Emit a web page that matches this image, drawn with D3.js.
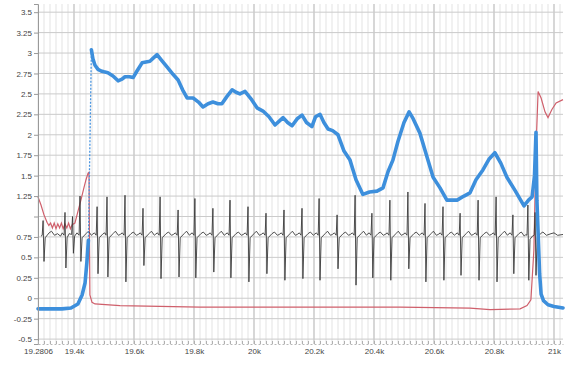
<!DOCTYPE html>
<html>
<head>
<meta charset="utf-8">
<script src="https://cdn.jsdelivr.net/npm/d3@7/dist/d3.min.js"></script>
<style>
  html, body { margin: 0; padding: 0; background: #fff; }
  svg { display: block; font-family: "Liberation Sans", "DejaVu Sans", sans-serif; }
</style>
</head>
<body>
<svg id="chart" width="565" height="365"></svg>
<script>
// Axis ticks
const xTickValues = [19280, 19400, 19600, 19800, 20000, 20200, 20400, 20600, 20800, 21000];
const xTickLabels = ["19.2806", "19.4k", "19.6k", "19.8k", "20k", "20.2k", "20.4k", "20.6k", "20.8k", "21k"];
const yTickValues = [3.5, 3.25, 3, 2.75, 2.5, 2.25, 2, 1.75, 1.5, 1.25, 1, 0.75, 0.5, 0.25, 0, -0.25, -0.5];
const yTickLabels = ["3.5", "3.25", "3", "2.75", "2.5", "2.25", "2", "1.75", "1.5", "1.25", "", "0.75", "0.5", "0.25", "0", "-0.25", "-0.5"];

// Blue trace, before the jump and after it
const blueRise = [
  [19280,-0.13],[19320,-0.13],[19360,-0.13],[19390,-0.12],[19413,-0.07],[19427,0.04],
  [19437,0.19],[19443,0.44],[19448,0.71]
];
const blueMain = [
  [19458,3.04],[19463,2.93],[19470,2.85],[19480,2.80],[19490,2.78],[19500,2.77],[19513,2.76],
  [19530,2.72],[19547,2.66],[19560,2.68],[19570,2.71],[19585,2.71],[19597,2.70],[19610,2.78],
  [19627,2.88],[19640,2.89],[19653,2.90],[19665,2.94],[19677,2.98],[19690,2.92],[19710,2.83],
  [19730,2.74],[19747,2.67],[19762,2.55],[19777,2.45],[19797,2.45],[19815,2.40],[19830,2.34],
  [19847,2.38],[19863,2.40],[19880,2.38],[19893,2.38],[19910,2.47],[19927,2.55],[19940,2.52],
  [19953,2.50],[19970,2.53],[19990,2.44],[20010,2.33],[20030,2.29],[20050,2.22],[20070,2.12],
  [20085,2.17],[20097,2.21],[20112,2.15],[20127,2.11],[20145,2.20],[20160,2.24],[20175,2.15],
  [20193,2.10],[20205,2.22],[20220,2.25],[20233,2.15],[20247,2.07],[20262,2.05],[20280,2.00],
  [20300,1.80],[20320,1.69],[20340,1.45],[20363,1.27],[20385,1.30],[20410,1.31],[20430,1.35],
  [20447,1.55],[20463,1.69],[20480,1.92],[20500,2.15],[20517,2.28],[20530,2.20],[20553,2.02],
  [20575,1.75],[20597,1.48],[20620,1.35],[20643,1.20],[20660,1.20],[20677,1.20],[20700,1.25],
  [20720,1.29],[20740,1.45],[20763,1.57],[20783,1.70],[20803,1.78],[20823,1.65],[20843,1.48],
  [20870,1.32],[20900,1.13],[20915,1.20],[20927,1.24],[20935,1.50],[20940,2.03],[20943,1.20],
  [20947,0.80],[20952,0.30],[20957,0.05],[20965,-0.03],[20980,-0.08],[21000,-0.10],[21030,-0.12]
];

// Red trace
const redTrace = [
  [19280,1.24],[19290,1.14],[19300,1.02],[19310,0.93],[19316,0.89],[19322,0.92],[19328,0.86],
  [19334,0.92],[19340,0.85],[19346,0.91],[19352,0.86],[19358,0.92],[19364,0.85],[19370,0.91],
  [19376,0.86],[19382,0.92],[19388,0.85],[19394,0.90],[19403,0.92],[19413,1.06],[19423,1.20],
  [19433,1.35],[19440,1.45],[19447,1.53],[19450,1.54],[19453,0.04],[19460,-0.05],[19470,-0.07],
  [19553,-0.09],[19820,-0.11],[20153,-0.11],[20487,-0.11],[20720,-0.12],[20787,-0.14],
  [20887,-0.13],[20910,-0.09],[20923,-0.02],[20933,0.59],[20940,1.83],[20947,2.53],[20957,2.45],
  [20970,2.28],[20980,2.21],[20993,2.31],[21007,2.39],[21030,2.43]
];

// Dark trace with periodic spikes
const darkTrace = [
  [19290,0.76],[19294,0.77],[19297,0.95],[19300,0.45],[19304,0.74],[19317,0.80],[19325,0.82],[19335,0.77],
  [19345,0.79],[19355,0.76],[19361,0.80],[19367,0.77],[19370,1.05],[19373,0.37],[19377,0.74],[19384,0.79],
  [19392,0.78],[19395,1.00],[19398,0.55],[19402,0.76],[19410,0.80],
  [19417,0.77],[19420,1.25],[19423,0.45],[19427,0.74],[19440,0.79],[19448,0.82],[19458,0.77],
  [19461,0.78],[19468,0.80],[19474,0.77],[19477,1.12],[19480,0.30],[19484,0.74],[19497,0.79],
  [19503,0.80],[19507,0.77],[19510,1.24],[19513,0.26],[19517,0.74],[19530,0.79],[19538,0.82],[19548,0.77],
  [19554,0.78],[19561,0.80],[19567,0.77],[19570,1.26],[19573,0.20],[19577,0.74],[19590,0.79],[19598,0.81],[19608,0.77],
  [19614,0.78],[19621,0.80],[19627,0.77],[19630,1.10],[19633,0.40],[19637,0.74],[19650,0.79],[19658,0.82],[19668,0.77],
  [19671,0.78],[19678,0.80],[19684,0.77],[19687,1.24],[19690,0.24],[19694,0.74],[19707,0.79],[19715,0.81],[19725,0.77],
  [19731,0.78],[19738,0.80],[19744,0.77],[19747,1.08],[19750,0.26],[19754,0.74],[19767,0.79],[19775,0.82],[19785,0.77],
  [19787,0.78],[19794,0.80],[19800,0.77],[19803,1.22],[19806,0.25],[19810,0.74],[19823,0.79],[19831,0.81],[19841,0.77],
  [19847,0.78],[19854,0.80],[19860,0.77],[19863,1.10],[19866,0.32],[19870,0.74],[19883,0.79],[19891,0.82],[19901,0.77],
  [19904,0.78],[19911,0.80],[19917,0.77],[19920,1.20],[19923,0.25],[19927,0.74],[19940,0.79],[19948,0.81],[19958,0.77],
  [19964,0.78],[19971,0.80],[19977,0.77],[19980,1.12],[19983,0.20],[19987,0.74],[20000,0.79],[20008,0.82],[20018,0.77],
  [20024,0.78],[20031,0.80],[20037,0.77],[20040,1.04],[20043,0.30],[20047,0.74],[20060,0.79],[20068,0.81],[20078,0.77],
  [20084,0.78],[20091,0.80],[20097,0.77],[20100,1.08],[20103,0.22],[20107,0.74],[20120,0.79],[20128,0.82],[20138,0.77],
  [20144,0.78],[20151,0.80],[20157,0.77],[20160,1.10],[20163,0.24],[20167,0.74],[20180,0.79],[20188,0.81],[20198,0.77],
  [20201,0.78],[20208,0.80],[20214,0.77],[20217,1.22],[20220,0.22],[20224,0.74],[20237,0.79],[20245,0.82],[20255,0.77],
  [20261,0.78],[20268,0.80],[20274,0.77],[20277,1.02],[20280,0.36],[20284,0.74],[20297,0.79],[20305,0.81],[20315,0.77],
  [20321,0.78],[20328,0.80],[20334,0.77],[20337,1.26],[20340,0.16],[20344,0.74],[20357,0.79],[20365,0.82],[20375,0.77],
  [20377,0.78],[20384,0.80],[20390,0.77],[20393,1.04],[20396,0.25],[20400,0.74],[20413,0.79],[20421,0.81],[20431,0.77],
  [20437,0.78],[20444,0.80],[20450,0.77],[20453,1.20],[20456,0.22],[20460,0.74],[20473,0.79],[20481,0.82],[20491,0.77],
  [20497,0.78],[20504,0.80],[20510,0.77],[20513,1.30],[20516,0.36],[20520,0.74],[20533,0.79],[20541,0.81],[20551,0.77],
  [20554,0.78],[20561,0.80],[20567,0.77],[20570,1.16],[20573,0.20],[20577,0.74],[20590,0.79],[20598,0.82],[20608,0.77],
  [20614,0.78],[20621,0.80],[20627,0.77],[20630,1.12],[20633,0.22],[20637,0.74],[20650,0.79],[20658,0.81],[20668,0.77],
  [20671,0.78],[20678,0.80],[20684,0.77],[20687,1.04],[20690,0.28],[20694,0.74],[20707,0.79],[20715,0.82],[20725,0.77],
  [20731,0.78],[20738,0.80],[20744,0.77],[20747,1.20],[20750,0.22],[20754,0.74],[20767,0.79],[20775,0.81],[20785,0.77],
  [20791,0.78],[20798,0.80],[20804,0.77],[20807,1.24],[20810,0.20],[20814,0.74],[20827,0.79],[20835,0.82],[20845,0.77],
  [20847,0.78],[20854,0.80],[20860,0.77],[20863,1.02],[20866,0.30],[20870,0.74],[20883,0.79],[20891,0.81],[20901,0.76],
  [20906,0.78],[20910,0.77],[20913,1.14],[20916,0.22],[20920,0.72],[20928,0.76],
  [20934,0.77],[20937,1.05],[20940,0.28],[20944,0.74],[20955,0.79],[20963,0.81],[20975,0.77],[20990,0.79],
  [21000,0.80],[21012,0.77],[21030,0.78]
];

const W = 565, H = 365;
const margin = { left: 38, right: 2, top: 4, bottom: 21 };
const svg = d3.select("#chart");

const x = d3.scaleLinear().domain([19280, 21030]).range([margin.left, W - margin.right]);
const y = d3.scaleLinear().domain([-0.56, 3.6]).range([H - margin.bottom, margin.top]);

const plot = svg.append("g");

// Minor vertical grid
const minorX = d3.range(19280, 21031, 20);
plot.append("g").selectAll("line").data(minorX).join("line")
  .attr("x1", d => x(d)).attr("x2", d => x(d))
  .attr("y1", y.range()[1]).attr("y2", y.range()[0])
  .attr("stroke", "#e3e3e3").attr("stroke-width", 1);

// Major vertical grid
plot.append("g").selectAll("line").data(xTickValues.slice(1)).join("line")
  .attr("x1", d => x(d)).attr("x2", d => x(d))
  .attr("y1", y.range()[1]).attr("y2", y.range()[0])
  .attr("stroke", "#bdbdbd").attr("stroke-width", 1);

// Horizontal grid
plot.append("g").selectAll("line").data(yTickValues).join("line")
  .attr("x1", x.range()[0]).attr("x2", x.range()[1])
  .attr("y1", d => y(d)).attr("y2", d => y(d))
  .attr("stroke", "#cbcbcb").attr("stroke-width", 1);

const line = d3.line().x(d => x(d[0])).y(d => y(d[1]));

// Red trace
plot.append("path").datum(redTrace)
  .attr("d", line).attr("fill", "none")
  .attr("stroke", "#cf5f6b").attr("stroke-width", 1.2);

// Dark trace
plot.append("path").datum(darkTrace)
  .attr("d", line).attr("fill", "none")
  .attr("stroke", "#3a3a3a").attr("stroke-width", 0.9);

// Blue trace
plot.append("path").datum([blueRise[blueRise.length - 1], blueMain[0]])
  .attr("d", line).attr("fill", "none")
  .attr("stroke", "#4a95e0").attr("stroke-width", 1.3).attr("stroke-dasharray", "2,1.5");
[blueRise, blueMain].forEach(seg => {
  plot.append("path").datum(seg)
    .attr("d", line).attr("fill", "none")
    .attr("stroke", "#3d8fdc").attr("stroke-width", 3.6)
    .attr("stroke-linejoin", "round").attr("stroke-linecap", "round");
});

// Y axis
const yAxis = svg.append("g").attr("transform", `translate(${margin.left},0)`)
  .call(d3.axisLeft(y).tickValues(yTickValues)
    .tickFormat((d, i) => yTickLabels[i]).tickSize(4).tickPadding(2));
yAxis.select(".domain").attr("stroke", "#9a9a9a");
yAxis.selectAll(".tick line").attr("stroke", "#9a9a9a");
yAxis.selectAll("text").attr("fill", "#444").style("font-size", "8px");

// X axis with minor ticks
const xMinor = svg.append("g").attr("transform", `translate(0,${y.range()[0]})`)
  .call(d3.axisBottom(x).tickValues(minorX).tickFormat("").tickSize(-3).tickSizeOuter(0));
xMinor.select(".domain").attr("stroke", "#b8b8b8").attr("stroke-dasharray", "2,2");
xMinor.selectAll(".tick line").attr("stroke", "#b0b0b0");

const xAxis = svg.append("g").attr("transform", `translate(0,${y.range()[0]})`)
  .call(d3.axisBottom(x).tickValues(xTickValues)
    .tickFormat((d, i) => xTickLabels[i]).tickSize(0).tickPadding(4));
xAxis.select(".domain").remove();
xAxis.selectAll("text").attr("fill", "#444").style("font-size", "8px");
</script>
</body>
</html>
